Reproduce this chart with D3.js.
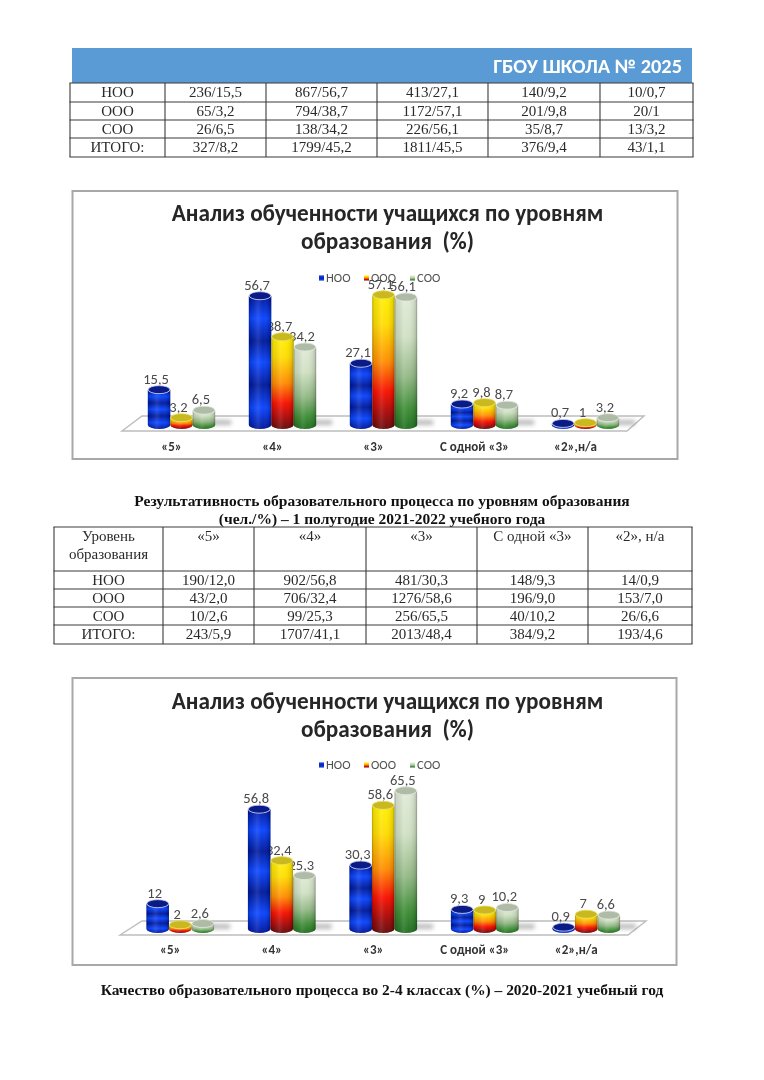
<!DOCTYPE html>
<html><head><meta charset="utf-8">
<script src="https://d3js.org/d3.v7.min.js"></script>
<style>html,body{margin:0;padding:0;background:#fff}svg{display:block;filter:blur(.35px)}</style>
</head><body><svg id="page" width="764" height="1080"></svg>
<script>
const categories = ["«5»","«4»","«3»","С одной «3»","«2»,н/а"];
const seriesNames = ["НОО","ООО","СОО"];
const noo1 = [15.5,56.7,27.1,9.2,0.7];
const ooo1 = [3.2,38.7,57.1,9.8,1];
const soo1 = [6.5,34.2,56.1,8.7,3.2];
const noo2 = [12,56.8,30.3,9.3,0.9];
const ooo2 = [2,32.4,58.6,9,7];
const soo2 = [2.6,25.3,65.5,10.2,6.6];
const chartTitle = ["Анализ обученности учащихся по уровням","образования  (%)"];
const bannerText = "ГБОУ ШКОЛА № 2025";
const table1Rows = [
 ["НОО","236/15,5","867/56,7","413/27,1","140/9,2","10/0,7"],
 ["ООО","65/3,2","794/38,7","1172/57,1","201/9,8","20/1"],
 ["СОО","26/6,5","138/34,2","226/56,1","35/8,7","13/3,2"],
 ["ИТОГО:","327/8,2","1799/45,2","1811/45,5","376/9,4","43/1,1"]];
const table2Head = [["Уровень","образования"],["«5»"],["«4»"],["«3»"],["С одной «3»"],["«2», н/а"]];
const table2Rows = [
 ["НОО","190/12,0","902/56,8","481/30,3","148/9,3","14/0,9"],
 ["ООО","43/2,0","706/32,4","1276/58,6","196/9,0","153/7,0"],
 ["СОО","10/2,6","99/25,3","256/65,5","40/10,2","26/6,6"],
 ["ИТОГО:","243/5,9","1707/41,1","2013/48,4","384/9,2","193/4,6"]];
const table2Title = ["Результативность образовательного процесса по уровням образования","(чел./%) – 1 полугодие 2021-2022 учебного года"];
const footerText = "Качество образовательного процесса во 2-4 классах (%) – 2020-2021 учебный год";

const svg = d3.select("#page");
const defs = svg.append("defs");
const SERIF = "'Liberation Serif','Times New Roman',serif";
const SANS = "Carlito,Lato,'Open Sans','Noto Sans',sans-serif";

function grad(id, stops, horizontal){
  const g = defs.append("linearGradient").attr("id",id)
    .attr("x1",0).attr("y1",0).attr("x2",horizontal?1:0).attr("y2",horizontal?0:1);
  stops.forEach(s=>g.append("stop").attr("offset",s[0]).attr("stop-color",s[1]).attr("stop-opacity",s[2]===undefined?1:s[2]));
}
grad("g0",[[0,"#00159a"],[.17,"#0a45ff"],[.34,"#001a9c"],[.5,"#0a45ff"],[.67,"#001a9c"],[.84,"#0a45ff"],[1,"#00159a"]]);
grad("g1",[[0,"#fff000"],[.22,"#ffdc00"],[.5,"#ff8c00"],[.72,"#f81000"],[.88,"#a80808"],[1,"#640a0a"]]);
grad("g2",[[0,"#e0ead6"],[.3,"#cfe0c2"],[.6,"#93b886"],[.85,"#3c8c34"],[1,"#206e20"]]);
grad("shade",[[0,"#000",.3],[.08,"#000",.08],[.4,"#fff",.12],[.62,"#fff",.03],[.92,"#000",.12],[1,"#000",.35]],true);
defs.append("filter").attr("id","soft").attr("x","-30%").attr("y","-200%").attr("width","160%").attr("height","500%")
  .append("feGaussianBlur").attr("stdDeviation",2);
const topFill = ["#0a1a86","#c9b81e","#aebba6"];
const topRim = ["#c4d2f4","#e8dc60","#dfe6d8"];

// banner
svg.append("rect").attr("x",72).attr("y",48).attr("width",620).attr("height",35).attr("fill","#5b9bd5");
svg.append("text").attr("x",682).attr("y",72.5).attr("text-anchor","end").attr("fill","#fff")
  .attr("font-family",SANS).attr("font-weight",700).attr("font-size",20.4).text(bannerText);

function drawTable(xs, ys, head, rows){
  const g = svg.append("g");
  const hOff = head ? 1 : 0;
  ys.forEach(y=>g.append("line").attr("x1",xs[0]-.5).attr("x2",xs[xs.length-1]+.5).attr("y1",y).attr("y2",y).attr("stroke","#3a3a3a").attr("stroke-width",1.1));
  xs.forEach(x=>g.append("line").attr("x1",x).attr("x2",x).attr("y1",ys[0]).attr("y2",ys[ys.length-1]).attr("stroke","#3a3a3a").attr("stroke-width",1.1));
  const cx = i=>(xs[i]+xs[i+1])/2;
  const T = (x,y,s)=>g.append("text").attr("x",x).attr("y",y).attr("text-anchor","middle")
     .attr("font-family",SERIF).attr("font-size",15).attr("fill","#2a2a2a").text(s);
  if(head) head.forEach((c,i)=>c.forEach((s,k)=>T(cx(i),ys[0]+14+k*18,s)));
  rows.forEach((r,j)=>r.forEach((s,i)=>T(cx(i),ys[j+hOff]+14,s)));
}
drawTable([70,165,266,377,488,600,693],[83,102,120,138,157],null,table1Rows);

function centered(lines, ys, opts){
  lines.forEach((s,i)=>svg.append("text").attr("x",opts.x).attr("y",ys[i]).attr("text-anchor","middle")
    .attr("font-family",opts.font).attr("font-weight",700).attr("font-size",opts.size).attr("fill",opts.fill)
    .style("white-space","pre").text(s));
}
centered(table2Title,[506,524],{x:382,font:SERIF,size:15.5,fill:"#111"});
drawTable([54,163,254,366,477,588,692],[527,571,589,607,625,644],table2Head,table2Rows);
centered([footerText],[995],{x:382,font:SERIF,size:15.45,fill:"#111"});

const fmt = v=>String(v).replace(".",",");

function drawChart(c){
  const g = svg.append("g");
  g.append("rect").attr("x",c.fx).attr("y",c.fy).attr("width",c.fw).attr("height",c.fh)
    .attr("fill","#fff").attr("stroke","#a8a8a8").attr("stroke-width",2);
  centered(chartTitle,c.titleY,{x:387.5,font:SANS,size:23.2,fill:"#262626"});

  const x = d3.scaleBand().domain(categories).range([c.x0,c.x0+5*c.step]).paddingInner(1/3).paddingOuter(1/6);
  const inner = d3.scaleBand().domain(seriesNames).range([0,x.bandwidth()]);
  const y = d3.scaleLinear().domain([0,70]).range([c.base,c.base-70*c.k]);

  // floor
  g.append("path").attr("fill","#fff").attr("stroke","#bdbdbd").attr("stroke-width",1.4)
    .attr("d",d3.line()(c.floor)+"Z");
  // floor shadows
  categories.forEach((cat,i)=>{
    g.append("rect").attr("x",x(cat)+x.bandwidth()-8).attr("y",c.base-5).attr("width",24).attr("height",5)
      .attr("fill","#777").attr("opacity",.5).attr("filter","url(#soft)");
  });

  // legend
  const lx = [319,364,410], ltx = [326,371,417];
  seriesNames.forEach((s,i)=>{
    g.append("rect").attr("x",lx[i]).attr("y",c.legendY-2.5).attr("width",5).attr("height",5).attr("fill",`url(#g${i})`);
    g.append("text").attr("x",ltx[i]).attr("y",c.legendY+4.3).attr("font-family",SANS).attr("font-size",12.6)
      .attr("fill","#505050").text(s);
  });

  // value labels beneath the bars, as in the reference
  const rx = inner.bandwidth()/2, ry = 4;
  c.series.forEach((vals,si)=>{
    g.selectAll(null).data(vals).join("text")
      .attr("x",(d,i)=>x(categories[i])+inner(seriesNames[si])+rx-3)
      .attr("y",d=>y(d)-6)
      .attr("text-anchor","middle").attr("font-family",SANS).attr("font-size",14.5)
      .attr("fill","#4a4a4a").text(fmt);
  });

  // bars
  c.series.forEach((vals,si)=>{
    const gs = g.append("g");
    const body = (d,i)=>{
      const l = x(categories[i])+inner(seriesNames[si]), r = l+2*rx;
      return `M${l},${y(d)}L${l},${y(0)}A${rx},${ry} 0 0 0 ${r},${y(0)}L${r},${y(d)}A${rx},${ry} 0 0 1 ${l},${y(d)}Z`;
    };
    gs.selectAll(null).data(vals).join("path").attr("d",body).attr("fill",`url(#g${si})`);
    gs.selectAll(null).data(vals).join("path").attr("d",body).attr("fill","url(#shade)");
    gs.selectAll(null).data(vals).join("ellipse")
      .attr("cx",(d,i)=>x(categories[i])+inner(seriesNames[si])+rx).attr("cy",d=>y(d))
      .attr("rx",rx-.4).attr("ry",ry).attr("fill",topFill[si]).attr("stroke",topRim[si]).attr("stroke-width",.8);
  });

  // axis
  const ax = g.append("g").attr("transform",`translate(${c.labelDx},${c.axisY})`).call(d3.axisBottom(x).tickSize(0).tickPadding(0));
  ax.select(".domain").remove();
  ax.selectAll("text").attr("font-family",SANS).attr("font-weight",700).attr("font-size",13).attr("fill","#333");
}

drawChart({fx:72.5,fy:191,fw:605,fh:268,titleY:[221,249],legendY:278,x0:131,step:101,base:425,k:2.28,
  floor:[[122,431],[142,416],[644,416],[627,431]],labelDx:-10,axisY:442,series:[noo1,ooo1,soo1]});
drawChart({fx:72.5,fy:678,fw:604,fh:287,titleY:[709,737],legendY:765,x0:129.5,step:101.5,base:929,k:2.11,
  floor:[[120,935],[142,921],[646,921],[628,935]],labelDx:-10,axisY:945,series:[noo2,ooo2,soo2]});
</script></body></html>
